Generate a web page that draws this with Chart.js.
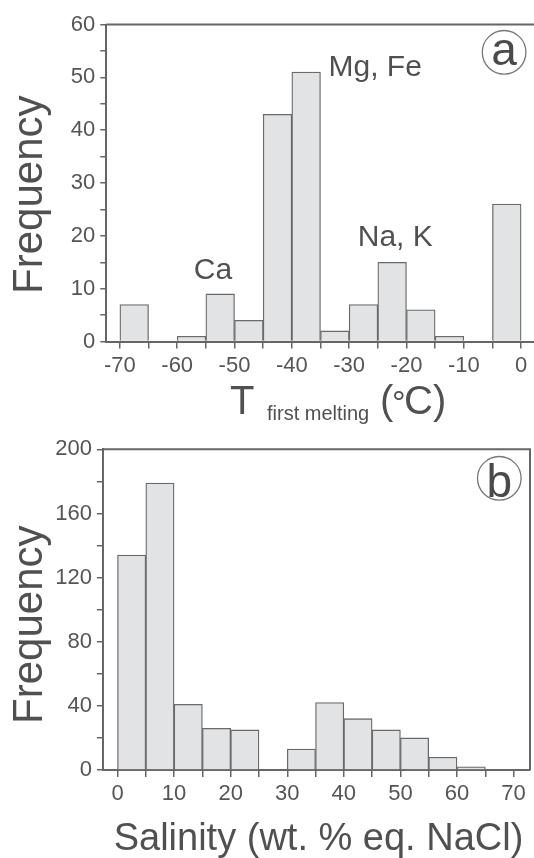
<!DOCTYPE html>
<html><head><meta charset="utf-8">
<script src="https://cdn.jsdelivr.net/npm/chart.js@4.4.1/dist/chart.umd.min.js"></script>
<style>
html,body{margin:0;padding:0;background:#fff;width:534px;height:858px;overflow:hidden}
.box{position:absolute;left:0;width:534px}
#b1{top:0;height:430px}
#b2{top:430px;height:428px}
canvas{display:block}
</style></head><body>
<div class="box" id="b1"><canvas id="c1" width="534" height="430"></canvas></div>
<div class="box" id="b2"><canvas id="c2" width="534" height="428"></canvas></div>
<script>
// ---- Panel (a): first melting temperature histogram ----
const tempBinStarts = [-70,-65,-60,-55,-50,-45,-40,-35,-30,-25,-20,-15,-10,-5];
const tempCounts    = [7,0,1,9,4,43,51,2,7,15,6,1,0,26];
const tempTicks     = [-70,-65,-60,-55,-50,-45,-40,-35,-30,-25,-20,-15,-10,-5,0];
const freqTicksA    = [0,5,10,15,20,25,30,35,40,45,50,55,60];
const labelsA       = ['Mg, Fe','Na, K','Ca'];
const labelXA       = [-33.6,-28.5,-57.1];
const labelYA       = [50.2,18.1,11.8];

// ---- Panel (b): salinity histogram ----
const salBinStarts  = [0,5,10,15,20,25,30,35,40,45,50,55,60,65];
const salCounts     = [134,179,41,26,25,0,13,42,32,25,20,8,2,0];
const salTicks      = [0,5,10,15,20,25,30,35,40,45,50,55,60,65,70];
const freqTicksB    = [0,20,40,60,80,100,120,140,160,180,200];

const FONT = '"Liberation Sans", Arial, Helvetica, sans-serif';
const AXIS = '#666666';
const TXT = '#505050';
const BAR_FILL = '#e2e3e5';
const BAR_EDGE = '#6a6a6a';

const xTitleDrawers = {
  c1: ctx => {
    ctx.fillStyle = TXT; ctx.textAlign = 'left'; ctx.textBaseline = 'alphabetic';
    ctx.font = '40px ' + FONT; ctx.fillText('T', 230, 414);
    ctx.font = '20px ' + FONT; ctx.fillText('first melting', 267, 420);
    ctx.font = '40px ' + FONT; ctx.fillText('(', 380, 414);
    ctx.font = '34px ' + FONT; ctx.fillText('°', 392, 414);
    ctx.font = '40px ' + FONT; ctx.fillText('C)', 404, 414);
  },
  c2: ctx => {
    ctx.fillStyle = TXT; ctx.textAlign = 'center'; ctx.textBaseline = 'alphabetic';
    ctx.font = '38px ' + FONT; ctx.fillText('Salinity (wt. % eq. NaCl)', 318.5, 420);
  }
};

const decorPlugin = {
  id: 'decor',
  afterDraw(chart) {
    const o = chart.options.plugins.decor;
    const {ctx, chartArea: a} = chart;
    const xs = chart.scales.x, ys = chart.scales.y;
    ctx.save();
    // frame (top + right)
    ctx.strokeStyle = AXIS; ctx.lineWidth = 2;
    ctx.beginPath();
    ctx.moveTo(a.left, a.top); ctx.lineTo(a.right, a.top);
    if (o.rightBorder) ctx.lineTo(a.right, a.bottom);
    ctx.stroke();
    // circled panel letter
    ctx.lineWidth = 1.3; ctx.strokeStyle = '#777';
    const cx = a.right + o.circleDx, cy = a.top + o.circleDy;
    ctx.beginPath(); ctx.arc(cx, cy, 21.8, 0, Math.PI * 2); ctx.stroke();
    ctx.fillStyle = '#4a4a4a';
    ctx.font = '46px ' + FONT; ctx.textAlign = 'center'; ctx.textBaseline = 'alphabetic';
    ctx.fillText(o.letter, cx, cy + o.letterDy);
    // annotations in data coordinates
    ctx.fillStyle = TXT; ctx.textAlign = 'left';
    ctx.font = '30px ' + FONT;
    (o.labels || []).forEach((t, i) => {
      ctx.fillText(t, xs.getPixelForValue(o.labelX[i]), ys.getPixelForValue(o.labelY[i]));
    });
    // y title
    ctx.save();
    ctx.translate(o.yTitleX, o.yTitleY);
    ctx.rotate(-Math.PI / 2);
    ctx.font = '42px ' + FONT; ctx.textAlign = 'center';
    ctx.fillText('Frequency', 0, 0);
    ctx.restore();
    // x title
    const draw = xTitleDrawers[chart.canvas.id];
    if (draw) draw(ctx);
    ctx.restore();
  }
};

function makeChart(id, cfg) {
  const data = cfg.starts.map((s, i) => ({x: s + 2.5, y: cfg.counts[i]}));
  return new Chart(document.getElementById(id), {
    type: 'bar',
    data: { datasets: [{
      data,
      backgroundColor: BAR_FILL, borderColor: BAR_EDGE, borderWidth: 1.3,
      barPercentage: 1, categoryPercentage: 1, borderSkipped: 'start'
    }]},
    options: {
      responsive: false, animation: false, devicePixelRatio: 1,
      layout: { padding: cfg.padding },
      plugins: { legend: {display: false}, tooltip: {enabled: false}, decor: cfg.decor },
      scales: {
        x: {
          type: 'linear', min: cfg.xMin, max: cfg.xMax, offset: false,
          afterBuildTicks: s => { s.ticks = cfg.xTicks.map(v => ({value: v})); },
          afterFit: s => { s.height = cfg.xHeight; },
          ticks: { autoSkip: false, maxRotation: 0, padding: 4, color: '#555',
                   font: {family: FONT, size: 22},
                   callback: v => (v % 10 === 0 ? String(v) : '') },
          grid: { offset: false, drawOnChartArea: false, drawTicks: true, tickLength: 7, color: AXIS, lineWidth: 1.5 },
          border: { display: true, color: AXIS, width: 2 }
        },
        y: {
          type: 'linear', min: 0, max: cfg.yMax,
          afterBuildTicks: s => { s.ticks = cfg.yTicks.map(v => ({value: v})); },
          afterFit: s => { s.width = cfg.yWidth; },
          ticks: { autoSkip: false, padding: 5, color: '#555',
                   font: {family: FONT, size: 22},
                   callback: v => (v % cfg.yLabelStep === 0 ? String(v) : '') },
          grid: { drawOnChartArea: false, drawTicks: true, tickLength: 6, color: AXIS, lineWidth: 1.5 },
          border: { display: true, color: AXIS, width: 2 }
        }
      }
    },
    plugins: [decorPlugin]
  });
}

makeChart('c1', {
  starts: tempBinStarts, counts: tempCounts, xTicks: tempTicks, yTicks: freqTicksA,
  xMin: -72.37, xMax: 2.25, yMax: 60, yLabelStep: 10,
  yWidth: 106.3, xHeight: 88.5, padding: {top: 24.5, right: 0, bottom: 0, left: 0},
  decor: {
    rightBorder: false, letter: 'a', circleDx: -29.9, circleDy: 27.8, letterDy: 13,
    labels: labelsA, labelX: labelXA, labelY: labelYA,
    yTitleX: 42, yTitleY: 194.7
  }
});

makeChart('c2', {
  starts: salBinStarts, counts: salCounts, xTicks: salTicks, yTicks: freqTicksB,
  xMin: -2.58, xMax: 72.9, yMax: 200, yLabelStep: 40,
  yWidth: 102.9, xHeight: 88, padding: {top: 19.3, right: 4, bottom: 0, left: 0},
  decor: {
    rightBorder: true, letter: 'b', circleDx: -30.7, circleDy: 29, letterDy: 19,
    labels: [], labelX: [], labelY: [],
    yTitleX: 42, yTitleY: 194.7
  }
});
</script>
</body></html>
